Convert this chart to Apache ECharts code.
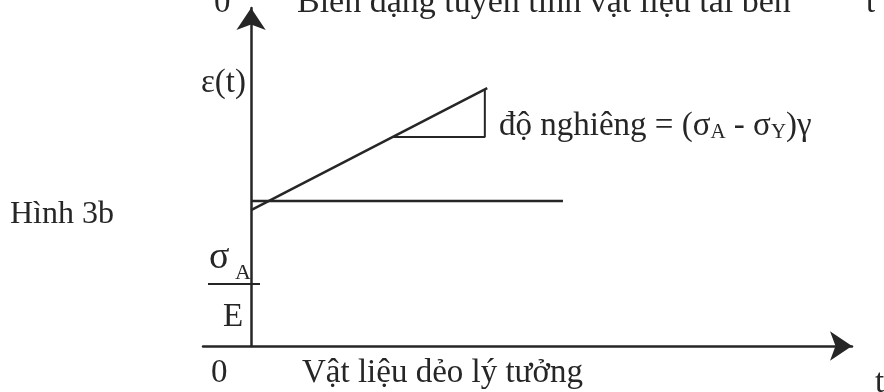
<!DOCTYPE html>
<html>
<head>
<meta charset="utf-8">
<script src="https://cdn.jsdelivr.net/npm/echarts@6/dist/echarts.min.js"></script>
<style>
  html, body { margin: 0; padding: 0; background: #fff; }
  #chart { width: 884px; height: 392px; }
</style>
</head>
<body>
<div id="chart"></div>
<script>
  // đường biến dạng tái bền (nghiêng) và đường dẻo lý tưởng (ngang)
  var slopeX = [0, 39.3]
  var slopeY = [40.2, 76.3]
  var flatX = [0, 51.9]
  var flatY = [42.9, 42.9]
  // tam giác độ nghiêng
  var triX = [23.5, 38.9, 38.9]
  var triY = [61.8, 61.8, 75.9]

  var ink = '#262626'
  var serif = "'Liberation Serif', 'DejaVu Serif', serif"

  function pairs(xs, ys) {
    return xs.map(function (x, i) { return [x, ys[i]] })
  }

  function label(text, x, y, size, extra) {
    var style = { text: text, font: size + 'px ' + serif, fill: ink, verticalAlign: 'middle' }
    for (var k in extra) style[k] = extra[k]
    return { type: 'text', x: x, y: y, style: style }
  }

  var chart = echarts.init(document.getElementById('chart'))

  var lineStyle = { color: ink, width: 2.5 }
  var axisStyle = {
    show: true,
    symbol: ['none', 'arrow'],
    symbolSize: [22, 22],
    lineStyle: { color: ink, width: 2.5 }
  }

  var option = {
    backgroundColor: '#fff',
    animation: false,
    grid: { left: 203, right: 32, top: 8, bottom: 46 },
    xAxis: {
      type: 'value',
      min: -8,
      max: 100,
      splitLine: { show: false },
      axisTick: { show: false },
      axisLabel: { show: false },
      axisLine: axisStyle
    },
    yAxis: {
      type: 'value',
      min: 0,
      max: 100,
      splitLine: { show: false },
      axisTick: { show: false },
      axisLabel: { show: false },
      axisLine: Object.assign({ onZero: true }, axisStyle)
    },
    series: [
      { type: 'line', data: pairs(slopeX, slopeY), symbol: 'none', lineStyle: lineStyle },
      { type: 'line', data: pairs(flatX, flatY), symbol: 'none', lineStyle: lineStyle },
      { type: 'line', data: pairs(triX, triY), symbol: 'none', lineStyle: { color: ink, width: 2 } }
    ],
    graphic: [
      // dòng đầu (bị cắt ở mép trên)
      label('0', 214, 3, 33),
      label('Biến dạng tuyến tính vật liệu tái bền', 297, 3, 34),
      label('t', 866, 3, 33),
      // nhãn trục tung
      label('ε(t)', 246, 83, 33, { align: 'right' }),
      // độ nghiêng
      label('độ nghiêng = (σ{s|A} - σ{s|Y})γ', 499, 126, 33, {
        rich: { s: { fontSize: 21, fontFamily: serif, fill: ink, verticalAlign: 'bottom' } }
      }),
      label('Hình 3b', 10, 215, 32),
      // σA / E
      label('σ', 209, 258, 38),
      label('A', 235, 273, 22),
      { type: 'line', shape: { x1: 208, y1: 284, x2: 260, y2: 284 }, style: { stroke: ink, lineWidth: 2 } },
      label('E', 223, 317, 33),
      // hàng dưới
      label('0', 211, 373, 33),
      label('Vật liệu dẻo lý tưởng', 302, 373, 33),
      label('t', 875, 383, 33)
    ]
  }

  chart.setOption(option)
</script>
</body>
</html>
